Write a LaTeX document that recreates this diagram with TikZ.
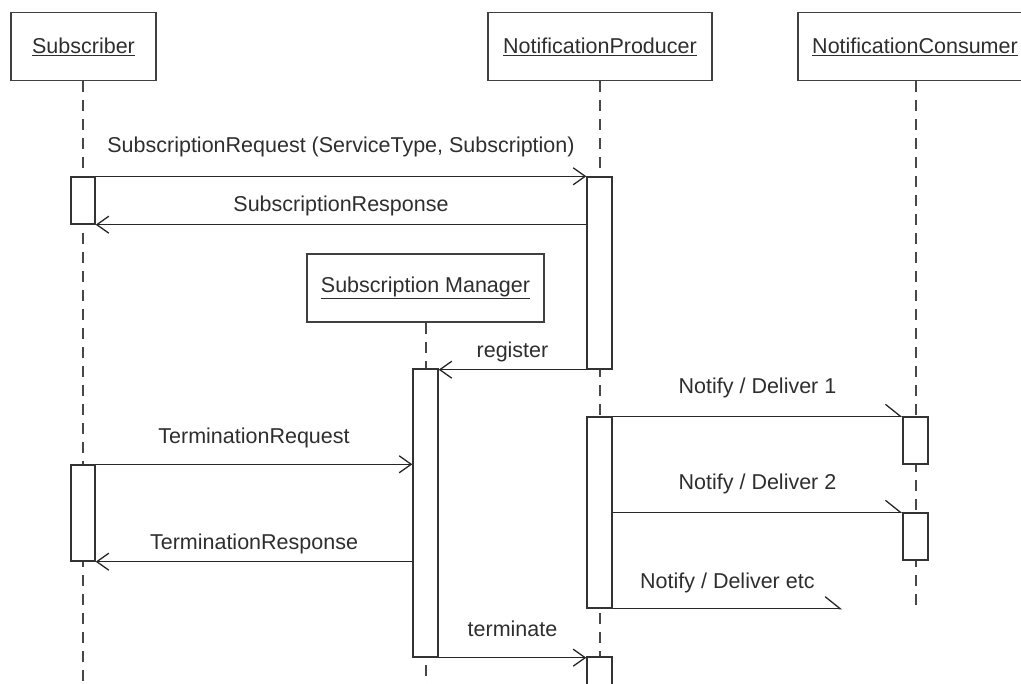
\documentclass[tikz,border=0pt]{standalone}
\usepackage{fontspec}
\setmainfont{Liberation Sans}
\usetikzlibrary{arrows.meta}

\begin{document}
\begin{tikzpicture}[x=1pt,y=-1pt,
    every node/.style={font=\fontsize{21.5}{25}\selectfont,text=black!82,inner sep=0pt},
    objbox/.style={draw=black!75,line width=1.8pt,minimum width=#1,minimum height=68pt},
    actbar/.style={draw=black!80,fill=white,line width=1.4pt,minimum width=24pt,minimum height=#1},
    lifeline/.style={black!72,line width=2pt,dash pattern=on 11pt off 8pt},
    msg/.style={black!85,line width=1.3pt,-{Straight Barb[length=12pt,width=17pt]}},
    halfmsg/.style={black!85,line width=1.3pt,-{Straight Barb[left,length=15pt,width=24pt]}},
    lbl/.style={midway,anchor=mid}]
  \useasboundingbox (0,0) rectangle (1021,684);
  % objects
  \node[objbox=145pt] (sub) at (83.5,46.5) {\underline{Subscriber}};
  \node[objbox=224pt] (prod) at (600,46.5) {\underline{NotificationProducer}};
  \node[objbox=234pt] (cons) at (915,46.5) {\underline{NotificationConsumer}};
  \node[objbox=237pt] (mgr) at (425.5,288) {\underline{Subscription Manager}};
  % lifelines
  \coordinate (subend) at (83,684);
  \coordinate (prodend) at (599.5,684);
  \coordinate (consend) at (915.5,610);
  \coordinate (mgrend) at (425.5,684);
  \draw[lifeline] (sub.south -| subend) -- (subend);
  \draw[lifeline] (prod.south -| prodend) -- (prodend);
  \draw[lifeline] (cons.south -| consend) -- (consend);
  \draw[lifeline] (mgr.south -| mgrend) -- (mgrend);
  % activations
  \node[actbar=47pt] (sa1) at (83,200.5) {};
  \node[actbar=96pt] (sa2) at (83,513) {};
  \node[actbar=192pt,minimum width=25pt] (pa1) at (599.5,273) {};
  \node[actbar=191pt,minimum width=25pt] (pa2) at (599.5,512.5) {};
  \node[actbar=43pt,minimum width=25pt] (pa3) at (599.5,678.5) {};
  \node[actbar=288pt,minimum width=25pt] (ma1) at (425.5,513) {};
  \node[actbar=47pt,minimum width=25pt] (ca1) at (915.5,440.5) {};
  \node[actbar=47pt,minimum width=25pt] (ca2) at (915.5,536.5) {};
  \coordinate (etcend) at (pa2.south -| 842,0);
  % messages
  \draw[msg] (sa1.north east) -- node[lbl,yshift=26pt] {SubscriptionRequest (ServiceType, Subscription)} (sa1.north east -| pa1.west);
  \draw[msg] (sa1.south east -| pa1.west) -- node[lbl,yshift=16pt] {SubscriptionResponse} (sa1.south east);
  \draw[msg] (pa1.south west) -- node[lbl,yshift=15pt] {register} (pa1.south west -| ma1.east);
  \draw[halfmsg] (pa2.north east) -- node[lbl,yshift=25pt] {Notify / Deliver 1} (ca1.north west);
  \draw[halfmsg] (ca2.north west -| pa2.east) -- node[lbl,yshift=25pt] {Notify / Deliver 2} (ca2.north west);
  \draw[halfmsg] (pa2.south east) -- node[lbl,yshift=23pt] {Notify / Deliver etc} (etcend);
  \draw[msg] (sa2.north east) -- node[lbl,yshift=23pt] {TerminationRequest} (sa2.north east -| ma1.west);
  \draw[msg] (sa2.south east -| ma1.west) -- node[lbl,yshift=15pt] {TerminationResponse} (sa2.south east);
  \draw[msg] (ma1.south east) -- node[lbl,yshift=24pt] {terminate} (ma1.south east -| pa3.west);
\end{tikzpicture}
\end{document}
